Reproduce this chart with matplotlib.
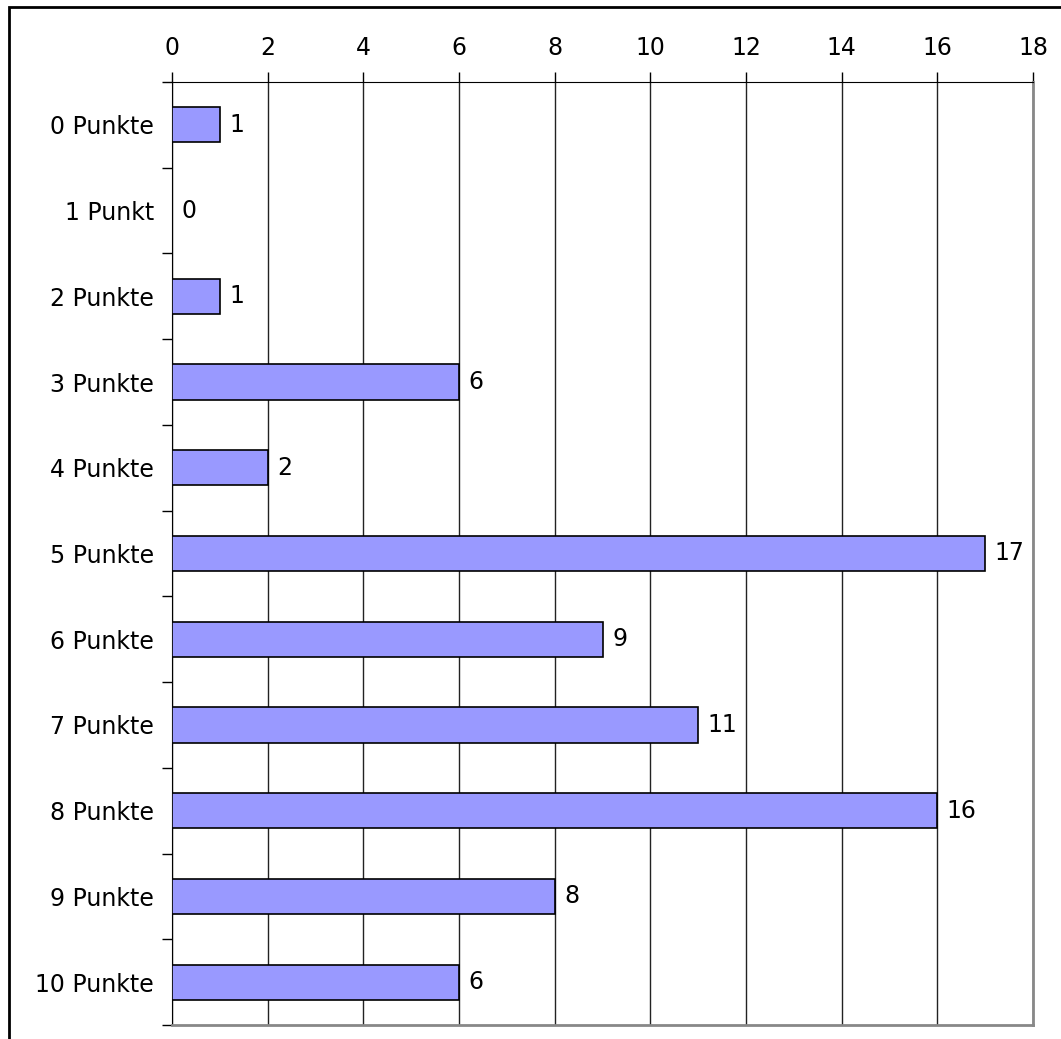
import numpy as np
import matplotlib.pyplot as plt
from matplotlib.patches import Rectangle

categories = ['0 Punkte', '1 Punkt', '2 Punkte', '3 Punkte', '4 Punkte', '5 Punkte',
              '6 Punkte', '7 Punkte', '8 Punkte', '9 Punkte', '10 Punkte']
counts = [1, 0, 1, 6, 2, 17, 9, 11, 16, 8, 6]
x_ticks = [0, 2, 4, 6, 8, 10, 12, 14, 16, 18]

plt.rcParams['font.family'] = ['DejaVu Sans']
fs = 17

fig = plt.figure(figsize=(10.61, 10.39), dpi=100)
ax = fig.add_axes([172/1061, 1-1025/1039, (1033-172)/1061, (1025-82)/1039])

# outer frame, cut off at right and bottom
fig.patches.append(Rectangle((9/1061, -0.05), 1.2, 1-7/1039+0.05, transform=fig.transFigure,
                             fill=False, edgecolor='black', linewidth=2))

y = np.arange(len(categories))
ax.barh(y, counts, height=0.41, color='#9999ff', edgecolor='black', linewidth=1.2, zorder=3)
for yi, v in zip(y, counts):
    ax.text(v + 0.2, yi, str(v), va='center', ha='left', fontsize=fs, zorder=4)

ax.set_xlim(0, 18)
ax.set_ylim(len(categories) - 0.5, -0.5)
ax.set_xticks(x_ticks)
ax.xaxis.tick_top()
ax.tick_params(axis='x', length=7, width=1, labelsize=fs, pad=9, direction='out')
ax.grid(axis='x', color='#222222', linewidth=1, zorder=1)

# category labels in the rows, tick marks on the row borders
ax.set_yticks(y)
ax.set_yticklabels(categories, fontsize=fs)
ax.tick_params(axis='y', which='major', length=0, pad=13)
ax.set_yticks(np.arange(-0.5, len(categories), 1), minor=True)
ax.tick_params(axis='y', which='minor', length=7, width=1, direction='out')

ax.spines['left'].set_color('black')
ax.spines['top'].set_color('black')
ax.spines['right'].set_color('#888888')
ax.spines['bottom'].set_color('#888888')
ax.spines['right'].set_linewidth(2)
ax.spines['bottom'].set_linewidth(2)

fig.savefig('out.png', dpi=100)
